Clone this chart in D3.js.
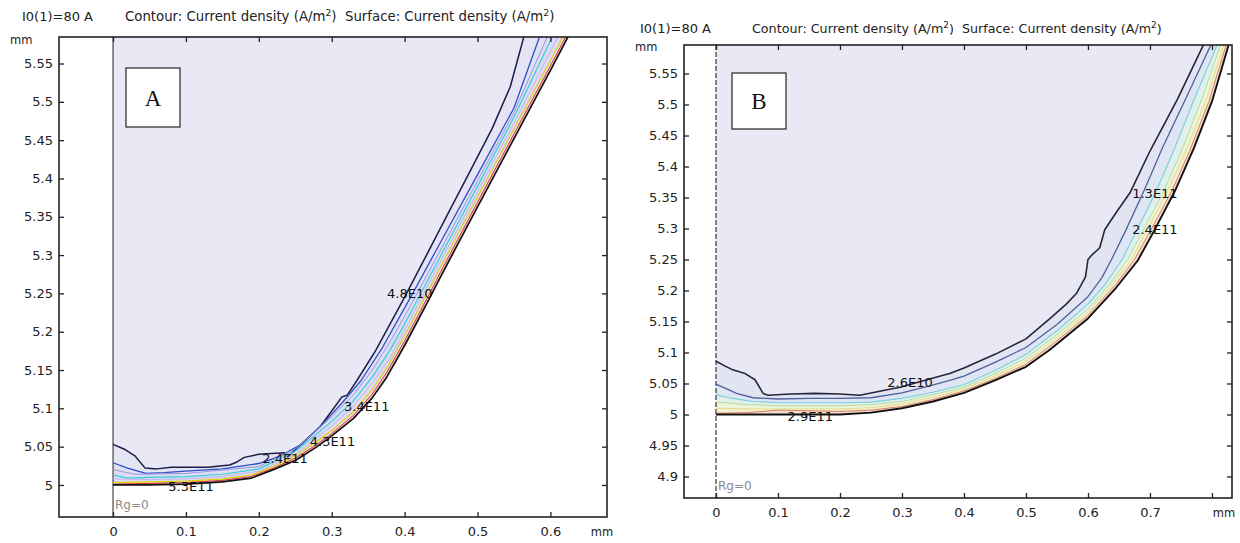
<!DOCTYPE html>
<html>
<head>
<meta charset="utf-8">
<script src="https://cdn.jsdelivr.net/npm/d3@7"></script>
<style>
  body { margin: 0; background: #fff; }
  text { font-family: "DejaVu Sans", sans-serif; }
</style>
</head>
<body>
<div id="chart"></div>
<script>
// ---- data (mm) ----

// panel A ticks
var xTicksA = [0, 0.1, 0.2, 0.3, 0.4, 0.5, 0.6];
var yTicksA = [5, 5.05, 5.1, 5.15, 5.2, 5.25, 5.3, 5.35, 5.4, 5.45, 5.5, 5.55];
// panel B ticks (0.8 is ticked but carries the unit label)
var xTicksB = [0, 0.1, 0.2, 0.3, 0.4, 0.5, 0.6, 0.7, 0.8];
var yTicksB = [4.9, 4.95, 5, 5.05, 5.1, 5.15, 5.2, 5.25, 5.3, 5.35, 5.4, 5.45, 5.5, 5.55];

// panel A contour lines, inner to outer
var contourA1 = [[0,5.053],[0.015,5.047],[0.03,5.038],[0.044,5.022],[0.06,5.021],[0.08,5.023],[0.1,5.023],[0.13,5.023],[0.16,5.026],[0.17,5.03],[0.18,5.036],[0.2,5.04],[0.235,5.042],[0.24,5.037],[0.26,5.055],[0.284,5.076],[0.298,5.094],[0.314,5.115],[0.321,5.117],[0.335,5.137],[0.36,5.175],[0.4,5.245],[0.43,5.3],[0.46,5.355],[0.49,5.41],[0.52,5.465],[0.545,5.52],[0.565,5.59]];
var contourA2 = [[0,5.029],[0.02,5.022],[0.045,5.015],[0.07,5.016],[0.1,5.018],[0.15,5.021],[0.2,5.028],[0.23,5.038],[0.26,5.054],[0.29,5.082],[0.315,5.108],[0.34,5.136],[0.37,5.18],[0.41,5.248],[0.45,5.318],[0.5,5.405],[0.55,5.492],[0.587,5.59]];
var contourA3 = [[0,5.02],[0.03,5.014],[0.1,5.015],[0.2,5.024],[0.25,5.047],[0.28,5.072],[0.3,5.089],[0.33,5.118],[0.355,5.149],[0.38,5.187],[0.4,5.22],[0.45,5.308],[0.5,5.397],[0.55,5.486],[0.598,5.59]];
var contourA4 = [[0,5.013],[0.02,5.009],[0.05,5.01],[0.1,5.011],[0.15,5.014],[0.2,5.021],[0.25,5.044],[0.28,5.067],[0.3,5.083],[0.33,5.11],[0.355,5.14],[0.38,5.176],[0.4,5.21],[0.45,5.3],[0.5,5.39],[0.55,5.48],[0.605,5.59]];
var contourA5 = [[0,5.008],[0.05,5.007],[0.1,5.008],[0.15,5.011],[0.2,5.018],[0.25,5.04],[0.28,5.062],[0.3,5.077],[0.33,5.103],[0.355,5.132],[0.38,5.166],[0.4,5.202],[0.45,5.293],[0.5,5.383],[0.55,5.472],[0.613,5.59]];
var contourA6 = [[0,5.003],[0.05,5.004],[0.1,5.005],[0.15,5.008],[0.19,5.013],[0.22,5.024],[0.25,5.038],[0.28,5.057],[0.3,5.071],[0.33,5.096],[0.355,5.124],[0.375,5.152],[0.4,5.195],[0.43,5.249],[0.45,5.286],[0.5,5.376],[0.55,5.465],[0.6,5.554],[0.62,5.59]];
var contourA7 = [[0,5.001],[0.05,5.002],[0.1,5.003],[0.15,5.006],[0.19,5.011],[0.22,5.022],[0.25,5.035],[0.28,5.053],[0.3,5.067],[0.33,5.091],[0.355,5.118],[0.375,5.146],[0.4,5.188],[0.43,5.242],[0.45,5.279],[0.5,5.369],[0.55,5.458],[0.6,5.547],[0.624,5.59]];
var boundaryA = [[0,5.0],[0.05,5.0],[0.1,5.001],[0.15,5.004],[0.19,5.009],[0.22,5.02],[0.25,5.032],[0.28,5.05],[0.3,5.064],[0.33,5.087],[0.355,5.113],[0.375,5.14],[0.4,5.182],[0.43,5.236],[0.45,5.273],[0.5,5.363],[0.55,5.452],[0.6,5.541],[0.627,5.59]];
var labelsA = [
  { text: "4.8E10", x: 0.407, y: 5.25 },
  { text: "3.4E11", x: 0.348, y: 5.102 },
  { text: "4.3E11", x: 0.301, y: 5.057 },
  { text: "2.4E11", x: 0.236, y: 5.034 },
  { text: "5.3E11", x: 0.107, y: 4.998 }
];

// panel B contour lines, inner to outer
var contourB1 = [[0,5.086],[0.015,5.078],[0.027,5.072],[0.047,5.066],[0.063,5.056],[0.076,5.034],[0.084,5.031],[0.12,5.033],[0.16,5.034],[0.2,5.033],[0.232,5.031],[0.276,5.04],[0.297,5.044],[0.34,5.056],[0.377,5.066],[0.4,5.075],[0.45,5.097],[0.5,5.122],[0.539,5.155],[0.565,5.178],[0.582,5.196],[0.596,5.222],[0.6,5.25],[0.607,5.258],[0.619,5.269],[0.627,5.298],[0.645,5.325],[0.668,5.358],[0.7,5.425],[0.745,5.51],[0.788,5.6]];
var contourB2 = [[0,5.049],[0.02,5.04],[0.033,5.034],[0.06,5.027],[0.1,5.025],[0.15,5.026],[0.2,5.026],[0.25,5.027],[0.3,5.035],[0.34,5.045],[0.377,5.055],[0.4,5.062],[0.45,5.084],[0.5,5.108],[0.55,5.145],[0.6,5.19],[0.622,5.22],[0.638,5.25],[0.66,5.295],[0.69,5.36],[0.72,5.43],[0.758,5.51],[0.8,5.6]];
var contourB3 = [[0,5.032],[0.02,5.027],[0.04,5.024],[0.06,5.021],[0.1,5.019],[0.2,5.019],[0.25,5.02],[0.3,5.026],[0.35,5.036],[0.4,5.048],[0.45,5.071],[0.5,5.097],[0.55,5.135],[0.6,5.178],[0.628,5.21],[0.655,5.25],[0.678,5.295],[0.71,5.36],[0.74,5.43],[0.772,5.51],[0.81,5.6]];
var contourB4 = [[0,5.02],[0.05,5.016],[0.1,5.014],[0.2,5.014],[0.25,5.016],[0.3,5.021],[0.35,5.032],[0.4,5.044],[0.45,5.066],[0.5,5.091],[0.55,5.129],[0.6,5.17],[0.635,5.21],[0.664,5.25],[0.688,5.295],[0.722,5.36],[0.753,5.43],[0.784,5.51],[0.815,5.6]];
var contourB5 = [[0,5.01],[0.05,5.009],[0.1,5.009],[0.2,5.009],[0.25,5.011],[0.3,5.017],[0.35,5.028],[0.4,5.041],[0.45,5.062],[0.5,5.086],[0.55,5.124],[0.6,5.165],[0.64,5.21],[0.67,5.25],[0.694,5.295],[0.728,5.36],[0.76,5.43],[0.79,5.505],[0.82,5.6]];
var contourB6 = [[0,5.002],[0.05,5.003],[0.1,5.007],[0.15,5.006],[0.2,5.005],[0.25,5.007],[0.3,5.013],[0.35,5.024],[0.4,5.038],[0.45,5.058],[0.5,5.081],[0.55,5.119],[0.6,5.16],[0.645,5.21],[0.675,5.25],[0.7,5.295],[0.735,5.36],[0.766,5.43],[0.795,5.505],[0.824,5.6]];
var boundaryB = [[0,5.0],[0.1,5.0],[0.2,5.0],[0.25,5.003],[0.3,5.01],[0.35,5.021],[0.4,5.035],[0.45,5.055],[0.5,5.077],[0.539,5.105],[0.6,5.155],[0.645,5.204],[0.68,5.248],[0.706,5.295],[0.74,5.36],[0.771,5.43],[0.8,5.505],[0.828,5.6]];
var labelsB = [
  { text: "1.3E11", x: 0.708, y: 5.357 },
  { text: "2.4E11", x: 0.708, y: 5.298 },
  { text: "2.6E10", x: 0.313, y: 5.051 },
  { text: "2.9E11", x: 0.152, y: 4.997 }
];

// ---- drawing ----
var svgWidth = 1240;
var svgHeight = 543;

var svg = d3.select("#chart")
  .append("svg")
  .attr("width", svgWidth)
  .attr("height", svgHeight);

var panels = [
  {
    id: "A", left: 59, top: 37, right: 607, bottom: 517,
    xDomain: [-0.0741, 0.6776], yDomain: [4.9582, 5.5846],
    xTicks: xTicksA, yTicks: yTicksA, unitX: 602,
    titleX: 125, titleY: 21, titleSize: 13.3, infoX: 22, mmX: 10, mmY: 44,
    box: [126, 68, 54, 59],
    contours: [contourA1, contourA2, contourA3, contourA4, contourA5, contourA6, contourA7, boundaryA],
    colors: ["#1c1c48", "#2c50c8", "#9a96dc", "#30d2d2", "#c4b4ee", "#d4d400", "#e02828", "#111111"],
    widths: [1.5, 1.3, 1, 1.2, 1, 1.1, 1, 1.7],
    bands: ["#e4e4f4", "#e0e0f4", "#dcdcf5", "#dcdaf4", "#e0daf4", "#e8dcec", "#eed6dc"],
    labels: labelsA, axisDash: null, rgY: 509
  },
  {
    id: "B", left: 684, top: 45, right: 1232, bottom: 498,
    xDomain: [-0.0516, 0.8323], yDomain: [4.8653, 5.596],
    xTicks: xTicksB, yTicks: yTicksB, unitX: 1224,
    titleX: 752, titleY: 33, titleSize: 12.7, infoX: 640, mmX: 635, mmY: 51,
    box: [732, 73, 54, 56],
    contours: [contourB1, contourB2, contourB3, contourB4, contourB5, contourB6, boundaryB],
    colors: ["#26263a", "#50609c", "#78d0dc", "#b8dca0", "#e4dc8c", "#d88062", "#111111"],
    widths: [1.6, 1.3, 1.1, 1, 1, 1, 1.9],
    bands: ["#e2e4f2", "#dde6f2", "#e0f0ec", "#ecf4da", "#f6efd2", "#f4ddd0"],
    labels: labelsB, axisDash: "5,2", rgY: 490
  }
];

panels.forEach(function(p) {
  var x = d3.scaleLinear().domain(p.xDomain).range([p.left, p.right]);
  var y = d3.scaleLinear().domain(p.yDomain).range([p.bottom, p.top]);
  var yMax = p.yDomain[1] + 0.05;

  var line = d3.line()
    .x(d => x(d[0]))
    .y(d => y(d[1]));

  svg.append("clipPath")
    .attr("id", "clip" + p.id)
    .append("rect")
    .attr("x", p.left).attr("y", p.top)
    .attr("width", p.right - p.left).attr("height", p.bottom - p.top);

  var g = svg.append("g").attr("clip-path", "url(#clip" + p.id + ")");

  // domain surface
  var outer = p.contours[p.contours.length - 1];
  var domainPts = outer.concat([[outer[outer.length - 1][0], yMax], [0, yMax]]);
  g.append("path")
    .attr("d", line(domainPts) + "Z")
    .attr("fill", "#e9e9f5");

  // colour bands between neighbouring contours
  for (var i = 0; i < p.contours.length - 1; i++) {
    var band = p.contours[i].concat(p.contours[i + 1].slice().reverse());
    g.append("path")
      .attr("d", line(band) + "Z")
      .attr("fill", p.bands[i]);
  }

  // symmetry axis r = 0
  g.append("line")
    .attr("x1", x(0)).attr("x2", x(0))
    .attr("y1", p.top).attr("y2", p.bottom)
    .attr("stroke", p.axisDash ? "#444" : "#222")
    .attr("stroke-width", p.axisDash ? 1.3 : 1)
    .attr("stroke-dasharray", p.axisDash);

  // contour lines
  p.contours.forEach(function(c, k) {
    g.append("path")
      .attr("d", line(c))
      .attr("fill", "none")
      .attr("stroke", p.colors[k])
      .attr("stroke-width", p.widths[k])
      .attr("stroke-linejoin", "round");
  });

  // contour labels
  g.selectAll(".clabel")
    .data(p.labels)
    .enter()
    .append("text")
    .attr("x", d => x(d.x))
    .attr("y", d => y(d.y))
    .attr("text-anchor", "middle")
    .attr("dominant-baseline", "central")
    .attr("font-size", 13)
    .attr("fill", "#111")
    .text(d => d.text);

  g.append("text")
    .attr("x", x(0) + 2)
    .attr("y", p.rgY)
    .attr("font-size", 12)
    .attr("fill", "#8a8a8a")
    .text("Rg=0");

  // axes with inward ticks
  var fmt = function(d) { return d === 0.8 ? "" : d3.format("")(+d.toFixed(2)); };

  svg.append("g")
    .attr("transform", `translate(0, ${p.bottom})`)
    .call(d3.axisBottom(x).tickValues(p.xTicks).tickSizeInner(-5).tickSizeOuter(0).tickPadding(10).tickFormat(fmt))
    .call(a => a.select(".domain").remove());

  svg.append("g")
    .attr("transform", `translate(0, ${p.top})`)
    .call(d3.axisTop(x).tickValues(p.xTicks).tickSizeInner(-5).tickSizeOuter(0).tickFormat(""))
    .call(a => a.select(".domain").remove());

  svg.append("g")
    .attr("transform", `translate(${p.left}, 0)`)
    .call(d3.axisLeft(y).tickValues(p.yTicks).tickSizeInner(-5).tickSizeOuter(0).tickPadding(6).tickFormat(d => +d.toFixed(2)))
    .call(a => a.select(".domain").remove());

  svg.append("g")
    .attr("transform", `translate(${p.right}, 0)`)
    .call(d3.axisRight(y).tickValues(p.yTicks).tickSizeInner(-5).tickSizeOuter(0).tickFormat(""))
    .call(a => a.select(".domain").remove());

  svg.selectAll(".tick line").attr("stroke", "#222").attr("stroke-width", 1.3);
  svg.selectAll(".tick text").attr("font-size", 13).attr("fill", "#222");

  // frame
  svg.append("rect")
    .attr("x", p.left).attr("y", p.top)
    .attr("width", p.right - p.left).attr("height", p.bottom - p.top)
    .attr("fill", "none")
    .attr("stroke", "#222")
    .attr("stroke-width", 1.6);

  // units
  svg.append("text")
    .attr("x", p.unitX).attr("y", p.bottom + 19)
    .attr("text-anchor", "middle")
    .attr("font-size", 11.5).attr("fill", "#222")
    .text("mm");
  svg.append("text")
    .attr("x", p.mmX).attr("y", p.mmY)
    .attr("font-size", 11.5).attr("fill", "#222")
    .text("mm");

  // header texts
  svg.append("text")
    .attr("x", p.infoX).attr("y", p.titleY)
    .attr("font-size", 13).attr("fill", "#222")
    .text("I0(1)=80 A");

  var t = svg.append("text")
    .attr("x", p.titleX).attr("y", p.titleY)
    .attr("font-size", p.titleSize).attr("fill", "#222");
  t.append("tspan").text("Contour: Current density (A/m");
  t.append("tspan").attr("dy", -5).attr("font-size", p.titleSize * 0.7).text("2");
  t.append("tspan").attr("dy", 5).text(")\u00a0 Surface: Current density (A/m");
  t.append("tspan").attr("dy", -5).attr("font-size", p.titleSize * 0.7).text("2");
  t.append("tspan").attr("dy", 5).text(")");

  // panel letter box
  svg.append("rect")
    .attr("x", p.box[0]).attr("y", p.box[1])
    .attr("width", p.box[2]).attr("height", p.box[3])
    .attr("fill", "#fff")
    .attr("stroke", "#222")
    .attr("stroke-width", 1.2);
  svg.append("text")
    .attr("x", p.box[0] + p.box[2] / 2)
    .attr("y", p.box[1] + p.box[3] / 2 + 8)
    .attr("text-anchor", "middle")
    .style("font-family", "'Liberation Serif', serif")
    .attr("font-size", 23)
    .attr("fill", "#111")
    .text(p.id);
});
</script>
</body>
</html>
